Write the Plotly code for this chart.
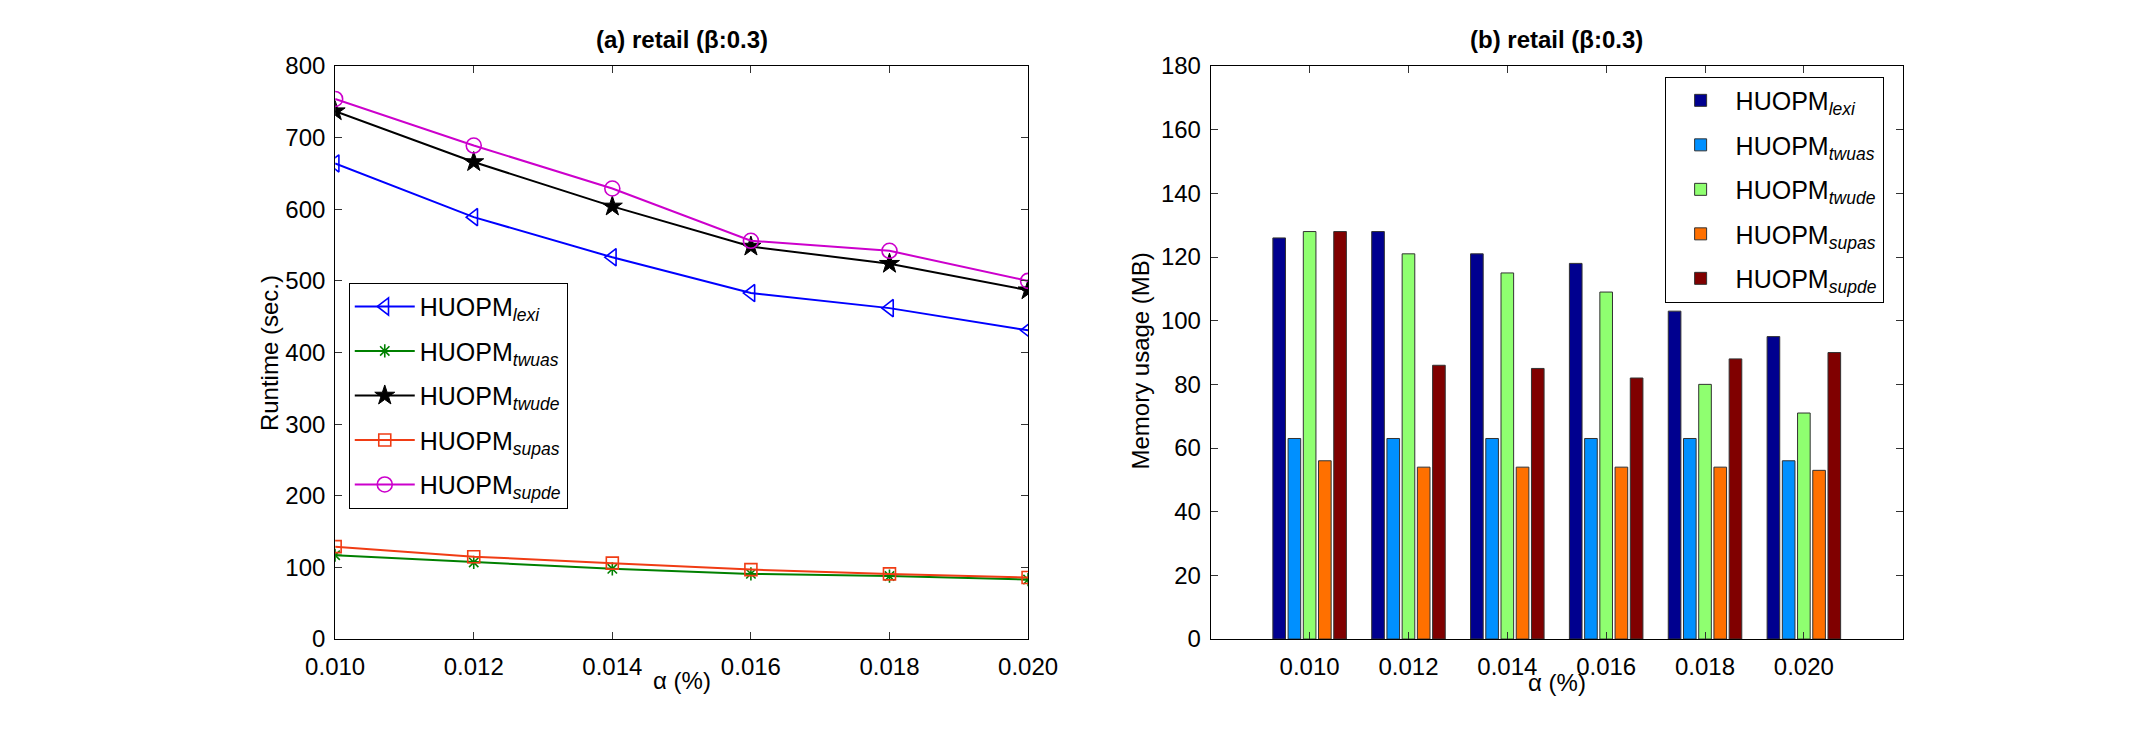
import plotly.graph_objects as go

# ---------------- data ----------------
alpha = [0.010, 0.012, 0.014, 0.016, 0.018, 0.020]
alpha_labels = ["0.010", "0.012", "0.014", "0.016", "0.018", "0.020"]

series_names = ["lexi", "twuas", "twude", "supas", "supde"]

runtime_lexi = [664, 589, 533, 483, 462, 431]
runtime_twuas = [117, 107, 98, 91, 88, 83]
runtime_twude = [737, 666, 604, 548, 524, 487]
runtime_supas = [129, 115, 106, 97, 91, 86]
runtime_supde = [754, 689, 629, 556, 542, 500]

mem_lexi = [126, 128, 121, 118, 103, 95]
mem_twuas = [63, 63, 63, 63, 63, 56]
mem_twude = [128, 121, 115, 109, 80, 71]
mem_supas = [56, 54, 54, 54, 54, 53]
mem_supde = [128, 86, 85, 82, 88, 90]

runtime_ticks = [0, 100, 200, 300, 400, 500, 600, 700, 800]
mem_ticks = [0, 20, 40, 60, 80, 100, 120, 140, 160, 180]

# ---------------- styles ----------------
FONT = "Liberation Sans, Arial, Helvetica, sans-serif"
W, H = 2130, 732

line_styles = {
    "lexi": dict(color="#0000ff", symbol="triangle-left-open", size=15, lw=1.6),
    "twuas": dict(color="#008000", symbol="asterisk-open", size=11, lw=1.6),
    "twude": dict(color="#000000", symbol="star", size=15, lw=1.0),
    "supas": dict(color="#f03c14", symbol="square-open", size=12, lw=1.6),
    "supde": dict(color="#cc00cc", symbol="circle-open", size=15, lw=1.6),
}
bar_colors = {
    "lexi": "#00008f",
    "twuas": "#0090ff",
    "twude": "#8fff70",
    "supas": "#ff7000",
    "supde": "#800000",
}

runtime = dict(lexi=runtime_lexi, twuas=runtime_twuas, twude=runtime_twude,
               supas=runtime_supas, supde=runtime_supde)
memory = dict(lexi=mem_lexi, twuas=mem_twuas, twude=mem_twude,
              supas=mem_supas, supde=mem_supde)

def label(name):
    return "HUOPM<sub><i>%s</i></sub>" % name

fig = go.Figure()

for n in series_names:
    st = line_styles[n]
    fig.add_trace(go.Scatter(
        x=alpha, y=runtime[n], mode="lines+markers", name=label(n),
        line=dict(color=st["color"], width=2),
        marker=dict(symbol=st["symbol"], size=st["size"], color=st["color"],
                    line=dict(color=st["color"], width=st["lw"])),
        xaxis="x", yaxis="y", legend="legend", legendgroup="a_" + n,
    ))

for n in series_names:
    fig.add_trace(go.Bar(
        x=alpha_labels, y=memory[n], name=label(n),
        marker=dict(color=bar_colors[n], line=dict(color="rgb(50,50,50)", width=1)),
        xaxis="x2", yaxis="y2", legend="legend2", legendgroup="b_" + n,
    ))

def px_x(v):
    return v / W

def px_y(v):
    return 1 - v / H

left_dom = [px_x(314), px_x(1027)]
right_dom = [px_x(1215), px_x(1927)]
y_dom = [px_y(649), px_y(54)]

axis_common = dict(
    showgrid=False, zeroline=False, showline=True, linecolor="black", linewidth=1,
    mirror="ticks", ticks="inside", ticklen=7, tickwidth=1, tickcolor="#333",
    tickfont=dict(family=FONT, size=24, color="black"),
)
xaxis_extra = dict(ticklabelstandoff=6)
yaxis_extra = dict(ticklabelstandoff=4)

legend_common = dict(
    xanchor="left", yanchor="top", bordercolor="black", borderwidth=1,
    bgcolor="white", font=dict(family=FONT, size=25, color="black"),
    itemwidth=60, tracegroupgap=9,
)

fig.update_layout(
    width=W, height=H, margin=dict(l=0, r=0, t=0, b=0),
    paper_bgcolor="white", plot_bgcolor="white",
    font=dict(family=FONT, color="black"),
    barmode="group", bargap=0.23, bargroupgap=0.17,
    xaxis=dict(domain=left_dom, anchor="y", range=[0.010, 0.020],
               tickmode="array", tickvals=alpha, ticktext=alpha_labels,
               **axis_common, **xaxis_extra),
    yaxis=dict(domain=y_dom, anchor="x", range=[0, 800],
               tickmode="array", tickvals=runtime_ticks, **axis_common, **yaxis_extra),
    xaxis2=dict(domain=right_dom, anchor="y2", type="category", range=[-1, 6],
                **axis_common, **xaxis_extra),
    yaxis2=dict(domain=y_dom, anchor="x2", range=[0, 180],
                tickmode="array", tickvals=mem_ticks, **axis_common, **yaxis_extra),
    legend=dict(x=px_x(328), y=px_y(279), **legend_common),
    legend2=dict(x=px_x(1682), y=px_y(65), **legend_common),
    showlegend=True,
)

ann_font = dict(family=FONT, size=24, color="black")
annotations = [
    dict(text="<b>(a) retail (β:0.3)</b>", x=(left_dom[0] + left_dom[1]) / 2, y=px_y(26),
         xref="paper", yref="paper", showarrow=False, font=ann_font,
         xanchor="center", yanchor="middle"),
    dict(text="<b>(b) retail (β:0.3)</b>", x=(right_dom[0] + right_dom[1]) / 2, y=px_y(26),
         xref="paper", yref="paper", showarrow=False, font=ann_font,
         xanchor="center", yanchor="middle"),
    dict(text="α (%)", x=(left_dom[0] + left_dom[1]) / 2, y=px_y(692),
         xref="paper", yref="paper", showarrow=False, font=ann_font,
         xanchor="center", yanchor="middle"),
    dict(text="α (%)", x=(right_dom[0] + right_dom[1]) / 2, y=px_y(694),
         xref="paper", yref="paper", showarrow=False, font=ann_font,
         xanchor="center", yanchor="middle"),
    dict(text="Runtime (sec.)", x=px_x(246), y=px_y(352), textangle=-90,
         xref="paper", yref="paper", showarrow=False, font=ann_font,
         xanchor="center", yanchor="middle"),
    dict(text="Memory usage (MB)", x=px_x(1143), y=px_y(360), textangle=-90,
         xref="paper", yref="paper", showarrow=False, font=ann_font,
         xanchor="center", yanchor="middle"),
]
fig.update_layout(annotations=annotations)

fig.write_html("out.html")
